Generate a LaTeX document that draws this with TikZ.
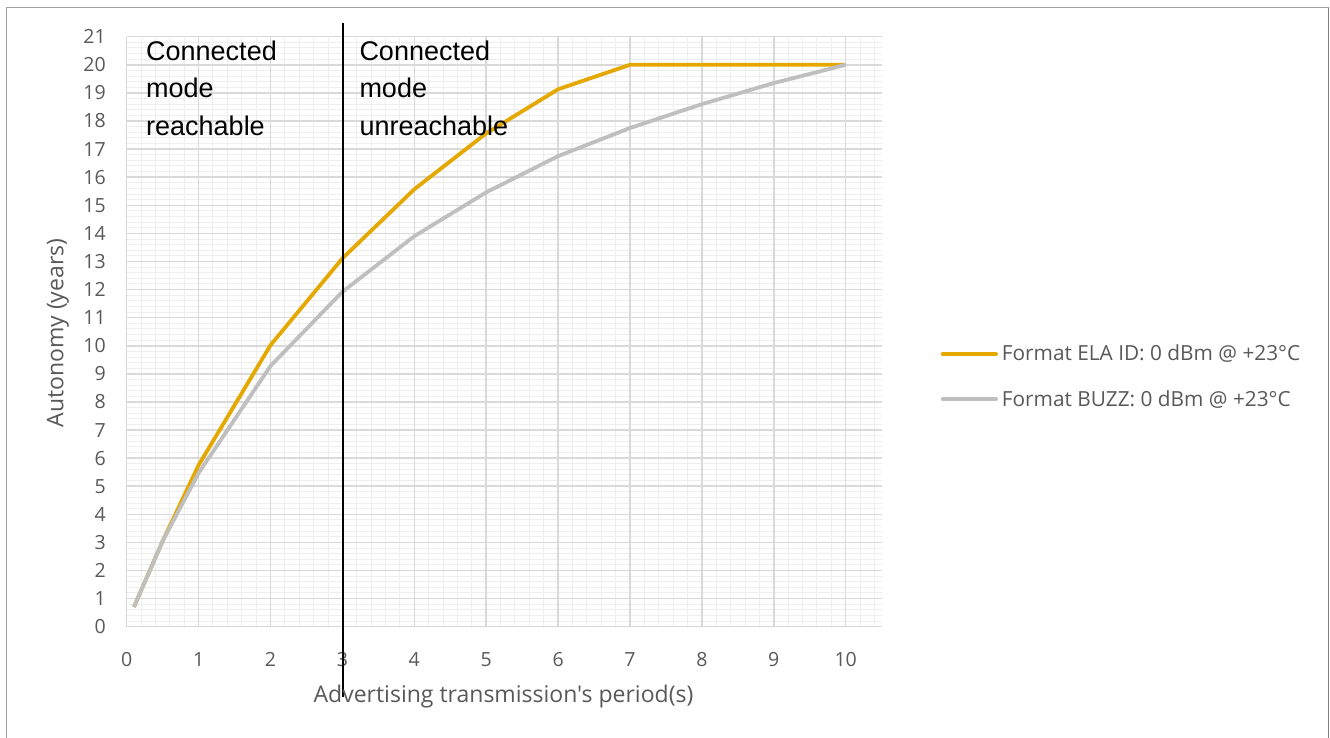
\documentclass[tikz,border=0pt]{standalone}
\usepackage{fontspec}
\setmainfont{Open Sans}[Ligatures=TeXOff]
\newfontfamily\annfont{Liberation Sans}
\definecolor{elaorange}{RGB}{229,168,0}
\definecolor{buzzgray}{RGB}{191,191,191}
\definecolor{majorgrid}{RGB}{217,217,217}
\definecolor{minorgrid}{RGB}{238,238,238}
\definecolor{txtgray}{RGB}{89,89,89}
\definecolor{framegray}{RGB}{160,160,160}
\tikzset{
  minorline/.style={draw=minorgrid, line width=1pt},
  majorline/.style={draw=majorgrid, line width=1.5pt},
  ticklab/.style={text=txtgray, font=\fontsize{19.5}{22}\selectfont, inner sep=0pt},
  axtitle/.style={text=txtgray, font=\fontsize{23}{26}\selectfont, inner sep=0pt},
  legtext/.style={text=txtgray, font=\fontsize{20.8}{24}\selectfont, inner sep=0pt, anchor=west},
  anntext/.style={text=black, font=\annfont\fontsize{27}{37.5}\selectfont, inner sep=0pt, anchor=north west, align=left},
  elaline/.style={draw=elaorange, line width=3.8pt, line join=round},
  buzzline/.style={draw=buzzgray, line width=3.8pt, line join=round}
}
\begin{document}
\begin{tikzpicture}[x=1pt,y=-1pt]
\path[use as bounding box, fill=white] (0,0) rectangle (1330,737);
% outer frame
\draw[framegray, line width=1.2pt] (6.5,740) -- (6.5,7.5) -- (1328.7,7.5);
\draw[gray, line width=1.5pt] (1328.7,7.5) -- (1328.7,740);
\begin{scope}[shift={(126.7,626.7)}, x=71.9pt, y=28.095pt]
  % minor grid
  \foreach \i in {1,...,52} \draw[minorline] (\i*0.2,0) -- (\i*0.2,21);
  \foreach \j in {1,...,104} \draw[minorline] (0,\j*0.2) -- (10.5,\j*0.2);
  % major grid
  \foreach \i in {1,...,10} \draw[majorline] (\i,0) -- (\i,21);
  \foreach \j in {1,...,21} \draw[majorline] (0,\j) -- (10.5,\j);
  \draw[majorline] (0,21) -- (0,0) -- (10.5,0);
  % tick labels
  \foreach \i in {0,...,10} \node[ticklab] (xt\i) at (\i,-1.16) {\i};
  \foreach \j in {0,...,21} \node[ticklab, anchor=east] (yt\j) at (-0.29,\j) {\j};
  % data
  \draw[elaline] (0.1,0.7) -- (0.5,3.05) -- (1,5.75) -- (2,10.02) -- (3,13.11) -- (4,15.57) -- (5,17.56) -- (6,19.13) -- (7,20) -- (8,20) -- (9,20) -- (10,20);
  \draw[buzzline] (0.1,0.7) -- (0.5,3.05) -- (1,5.47) -- (2,9.28) -- (3,11.92) -- (4,13.9) -- (5,15.46) -- (6,16.75) -- (7,17.75) -- (8,18.6) -- (9,19.35) -- (10,20);
\end{scope}
% separator
\coordinate (septop) at (343,23);
\coordinate (sepbot) at (343,697);
\draw[black, line width=1.1pt] (septop) -- (sepbot);
% annotations
\node[anntext] (reach) at (146,40.5) {Connected\\mode\\reachable};
\node[anntext] (unreach) at (359.3,40.5) {Connected\\mode\\unreachable};
% axis titles
\node[axtitle] (xtitle) at (503.5,697) {Advertising transmission's period(s)};
\node[axtitle, rotate=90] (ytitle) at (58,333) {Autonomy (years)};
% legend
\coordinate (l1a) at (942.7,354);
\coordinate (l1b) at (996,354);
\coordinate (l2a) at (942.7,399.3);
\coordinate (l2b) at (996,399.3);
\draw[elaline, line cap=round] (l1a) -- (l1b);
\draw[buzzline, line cap=round] (l2a) -- (l2b);
\node[legtext] (leg1) at (1001.7,354) {Format ELA ID: 0 dBm @ +23°C};
\node[legtext] (leg2) at (1001.7,399.3) {Format BUZZ: 0 dBm @ +23°C};
\end{tikzpicture}
\end{document}
